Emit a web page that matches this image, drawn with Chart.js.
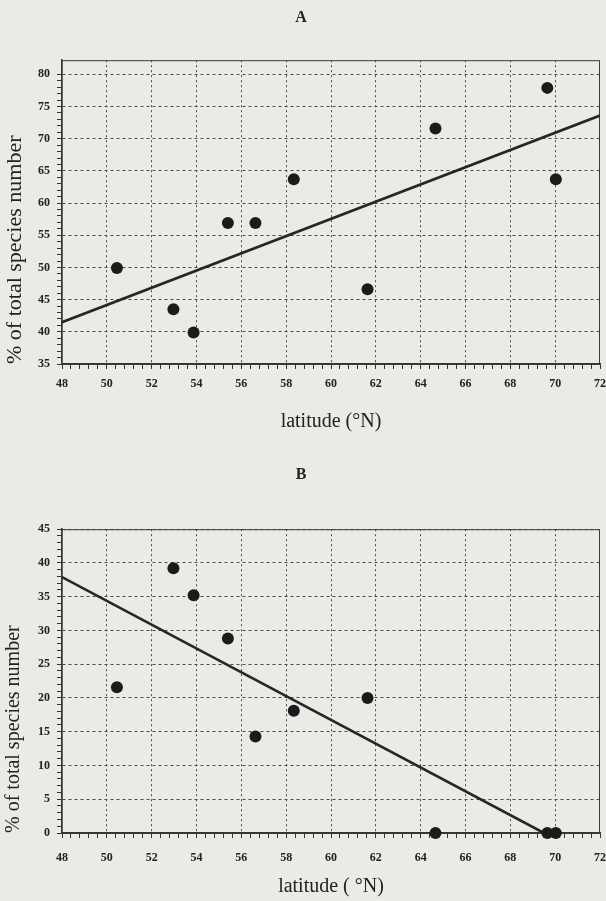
<!DOCTYPE html>
<html lang="en">
<head>
<meta charset="UTF-8">
<title>% of total species number vs latitude</title>
<script src="https://cdn.jsdelivr.net/npm/chart.js@4.4.1/dist/chart.umd.min.js"></script>
<style>
  body { margin: 0; background: #ebeae6; }
  .panel { position: absolute; left: 0; width: 606px; }
  #panelA { top: 0; height: 450px; }
  #panelB { top: 450px; height: 451px; }
</style>
</head>
<body>
<div class="panel" id="panelA"><canvas id="chartA" width="606" height="450"></canvas></div>
<div class="panel" id="panelB"><canvas id="chartB" width="606" height="451"></canvas></div>

<script>
// the same ten sites appear in both panels
const latitudes = [50.45, 52.97, 53.87, 55.4, 56.63, 58.34, 61.63, 64.66, 69.65, 70.03];
const percentA  = [49.9, 43.5, 39.9, 56.9, 56.9, 63.7, 46.6, 71.6, 77.9, 63.7];
const percentB  = [21.6, 39.2, 35.2, 28.8, 14.3, 18.1, 20.0, 0, 0, 0];

const fitLatA = [48, 72];
const fitA    = [41.5, 73.6];
const fitLatB = [48, 69.5];
const fitB    = [37.9, 0];

// labelled ticks
const xTicks  = [48, 50, 52, 54, 56, 58, 60, 62, 64, 66, 68, 70, 72];
const yTicksA = [35, 40, 45, 50, 55, 60, 65, 70, 75, 80];
const yTicksB = [0, 5, 10, 15, 20, 25, 30, 35, 40, 45];

const SERIF = '"Liberation Serif", "Times New Roman", serif';
const INK = '#222';

// major + minor tick positions
function tickRange(min, max, step) {
  const out = [];
  for (let i = 0; min + i * step <= max + 1e-9; i++) {
    out.push(Math.round((min + i * step) * 1000) / 1000);
  }
  return out;
}

const frame = {
  id: 'frame',
  beforeDatasetsDraw(chart) {
    const { ctx, chartArea: a } = chart;
    ctx.save();
    ctx.strokeStyle = '#3a3a3a';
    ctx.lineWidth = 1;
    ctx.strokeRect(a.left, a.top + 0.5, a.right - a.left - 0.5, a.bottom - a.top);
    ctx.restore();
  }
};

function makePanel(id, cfg) {
  const toXY = (xs, ys) => xs.map((x, i) => ({ x: x, y: ys[i] }));
  const xMinor = tickRange(48, 72, 0.4);
  const yMinor = tickRange(cfg.yMin, cfg.yTicks[cfg.yTicks.length - 1], 1);

  new Chart(document.getElementById(id), {
    type: 'scatter',
    data: {
      datasets: [
        {
          data: toXY(latitudes, cfg.values),
          pointRadius: 6,
          pointBackgroundColor: '#1b1b1b',
          pointBorderWidth: 0,
          clip: false
        },
        {
          data: toXY(cfg.fitX, cfg.fitY),
          showLine: true,
          borderColor: '#262626',
          borderWidth: 2.6,
          pointRadius: 0
        }
      ]
    },
    options: {
      responsive: false,
      animation: false,
      events: [],
      layout: { padding: { left: 0, right: 4, top: 0, bottom: 0 } },
      plugins: {
        legend: { display: false },
        tooltip: { enabled: false },
        title: {
          display: true,
          text: cfg.title,
          color: INK,
          font: { family: SERIF, size: 16, weight: 'bold' },
          padding: cfg.titlePad
        }
      },
      scales: {
        x: {
          type: 'linear',
          min: 48,
          max: 72,
          afterBuildTicks: s => { s.ticks = xMinor.map(v => ({ value: v })); },
          afterFit: s => { s.height = cfg.xHeight; s.paddingLeft = 0; s.paddingRight = 0; },
          grid: {
            color: c => (c.tick && xTicks.includes(c.tick.value) && c.tick.value > 48 && c.tick.value < 72)
              ? '#4a4a4a' : 'rgba(0,0,0,0)',
            lineWidth: 1,
            tickLength: 5,
            tickColor: '#333'
          },
          border: { display: true, color: '#333', width: 1.5, dash: [2, 3] },
          ticks: {
            autoSkip: false,
            maxRotation: 0,
            padding: cfg.xTickPad,
            color: INK,
            font: { family: SERIF, size: 12, weight: 'bold' },
            callback: v => xTicks.includes(v) ? String(v) : ''
          },
          title: {
            display: true,
            text: cfg.xTitle,
            color: INK,
            font: { family: SERIF, size: 20 },
            padding: { top: 0, bottom: cfg.xTitlePad }
          }
        },
        y: {
          type: 'linear',
          min: cfg.yMin,
          max: cfg.yMax,
          afterBuildTicks: s => { s.ticks = yMinor.map(v => ({ value: v })); },
          afterFit: s => { s.width = 62; s.paddingTop = 0; s.paddingBottom = 0; },
          grid: {
            color: c => (c.tick && cfg.yTicks.includes(c.tick.value) && c.tick.value > cfg.yMin)
              ? '#4a4a4a' : 'rgba(0,0,0,0)',
            lineWidth: 1,
            tickLength: 5,
            tickColor: '#333'
          },
          border: { display: true, color: '#333', width: 1.5, dash: [3, 3] },
          ticks: {
            autoSkip: false,
            padding: 7,
            color: INK,
            font: { family: SERIF, size: 12, weight: 'bold' },
            callback: v => cfg.yTicks.includes(v) ? String(v) : ''
          },
          title: {
            display: true,
            text: '% of total species number',
            align: 'start',
            color: INK,
            font: { family: SERIF, size: cfg.yTitleSize },
            padding: { top: 2, bottom: 0 }
          }
        }
      }
    },
    plugins: [frame]
  });
}

makePanel('chartA', {
  title: 'A',
  titlePad: { top: 8, bottom: 33 },
  values: percentA,
  fitX: fitLatA, fitY: fitA,
  yMin: 35, yMax: 82.2, yTicks: yTicksA,
  xHeight: 86, xTickPad: 8, xTitlePad: 16,
  xTitle: 'latitude (\u00B0N)',
  yTitleSize: 22
});

makePanel('chartB', {
  title: 'B',
  titlePad: { top: 15, bottom: 45 },
  values: percentB,
  fitX: fitLatB, fitY: fitB,
  yMin: 0, yMax: 45, yTicks: yTicksB,
  xHeight: 68, xTickPad: 13, xTitlePad: 2,
  xTitle: 'latitude ( \u00B0N)',
  yTitleSize: 20
});
</script>
</body>
</html>
